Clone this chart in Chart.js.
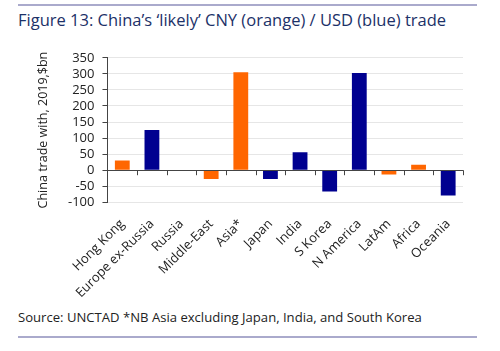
<!DOCTYPE html>
<html>
<head>
<meta charset="utf-8">
<script src="https://cdn.jsdelivr.net/npm/chart.js"></script>
<style>
  body { margin: 0; background: #fff; font-family: "Open Sans", sans-serif; }
  #wrap { position: relative; width: 500px; height: 351px; overflow: hidden; }
  .rule { position: absolute; left: 18px; width: 459px; height: 2px; background: #aaaacc; }
  #title { position: absolute; left: 18px; top: 8px; font-size: 16.5px; color: #1c3168; white-space: nowrap; }
  #source { position: absolute; left: 18px; top: 308px; font-size: 13.1px; color: #222; white-space: nowrap; }
  #box { position: absolute; left: 0; top: 42px; width: 480px; height: 265px; }
</style>
</head>
<body>
<div id="wrap">
  <div class="rule" style="top:4px"></div>
  <div id="title">Figure 13: China’s ‘likely’ CNY (orange) / USD (blue) trade</div>
  <div id="box"><canvas id="myChart"></canvas></div>
  <div id="source">Source: UNCTAD *NB Asia excluding Japan, India, and South Korea</div>
  <div class="rule" style="top:336px"></div>
</div>
<script>
// Datos
const regions = ["Hong Kong", "Europe ex-Russia", "Russia", "Middle-East", "Asia*", "Japan",
  "India", "S Korea", "N America", "LatAm", "Africa", "Oceania"];
const tradeValues = [30, 125, -2, -27, 305, -27, 56, -66, 303, -13, 17, -79];
const currency = ["CNY", "USD", "CNY", "CNY", "CNY", "USD", "USD", "USD", "USD", "CNY", "CNY", "USD"];
const yTicks = [-100, -50, 0, 50, 100, 150, 200, 250, 300, 350];

const colors = { CNY: "#ff6600", USD: "#000090" };

// Marcas del eje x sobre la línea de cero
const zeroTicks = {
  id: "zeroTicks",
  afterDatasetsDraw(chart) {
    const x = chart.scales.x;
    const y0 = chart.scales.y.getPixelForValue(0);
    const ctx = chart.ctx;
    ctx.save();
    ctx.strokeStyle = "#444";
    ctx.lineWidth = 1;
    ctx.beginPath();
    ctx.moveTo(chart.chartArea.left, Math.round(y0) + 0.5);
    ctx.lineTo(chart.chartArea.right, Math.round(y0) + 0.5);
    const step = (x.right - x.left) / regions.length;
    for (let i = 0; i <= regions.length; i++) {
      const px = Math.round(x.left + i * step) + 0.5;
      ctx.moveTo(px, y0);
      ctx.lineTo(px, y0 + 5);
    }
    ctx.stroke();
    ctx.restore();
  }
};

new Chart("myChart", {
  type: "bar",
  data: {
    labels: regions,
    datasets: [{
      data: tradeValues,
      backgroundColor: currency.map(c => colors[c]),
      barPercentage: 0.5,
      categoryPercentage: 1
    }]
  },
  options: {
    responsive: true,
    maintainAspectRatio: false,
    animation: false,
    layout: { padding: { left: 27, right: 17, top: 6, bottom: 0 } },
    plugins: { legend: { display: false }, tooltip: { enabled: false } },
    scales: {
      x: {
        grid: { display: false },
        border: { display: false },
        ticks: {
          color: "#222",
          font: { family: "Open Sans", size: 13 },
          minRotation: 45,
          maxRotation: 45,
          padding: 6
        }
      },
      y: {
        min: -100,
        max: 350,
        afterBuildTicks: axis => { axis.ticks = yTicks.map(v => ({ value: v })); },
        grid: {
          color: "#e6e6e6",
          tickColor: "#444",
          tickLength: 5
        },
        border: { color: "#444" },
        ticks: {
          autoSkip: false,
          color: "#222",
          font: { family: "Open Sans", size: 13 },
          padding: 8
        },
        title: {
          display: true,
          text: "China trade with, 2019,$bn",
          color: "#222",
          font: { family: "Open Sans", size: 12.5 },
          padding: 9
        }
      }
    }
  },
  plugins: [zeroTicks]
});
</script>
</body>
</html>
